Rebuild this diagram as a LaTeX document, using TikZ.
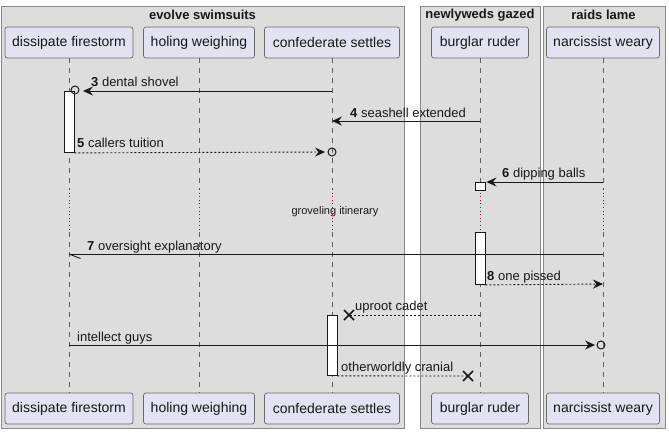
\documentclass[tikz,border=0pt]{standalone}
\usepackage{fontspec}
\setmainfont{Liberation Sans}
\usetikzlibrary{arrows.meta}
\definecolor{framefill}{HTML}{DDDDDD}
\definecolor{framedraw}{HTML}{888888}
\definecolor{partfill}{HTML}{E2E2F0}
\definecolor{partdraw}{HTML}{6A6A6A}
\definecolor{delayred}{HTML}{A80036}
\definecolor{ink}{HTML}{181818}
\definecolor{lifegray}{HTML}{606060}
\begin{document}
\begin{tikzpicture}[x=1pt,y=-1pt,
 frm/.style={draw=framedraw, fill=framefill, line width=0.9pt, inner sep=0pt, anchor=north west},
 part/.style={draw=partdraw, fill=partfill, rounded corners=2.5pt, line width=0.7pt, minimum height=31pt, inner sep=0pt, font=\fontsize{14}{16}\selectfont, text=ink},
 life/.style={draw=lifegray, line width=0.7pt, dash pattern=on 5pt off 5pt},
 delayline/.style={draw=delayred, line width=0.9pt, dash pattern=on 1pt off 2.6pt},
 act/.style={draw=ink, fill=white, line width=0.9pt, inner sep=0pt, minimum width=10pt, anchor=north},
 msg/.style={draw=ink, line width=0.9pt},
 rmsg/.style={msg, dash pattern=on 2pt off 2pt},
 tip/.style={-{Stealth[length=10pt,width=9pt,inset=3.5pt]}},
 lbl/.style={font=\fontsize{13}{15}\selectfont, text=ink, anchor=base west, inner sep=0pt},
 ttl/.style={font=\bfseries\fontsize{13}{15}\selectfont, text=ink, inner sep=0pt},
 dlbl/.style={font=\fontsize{11}{13}\selectfont, text=ink, inner sep=0pt},
 endcirc/.style={draw=ink, line width=1pt, circle, minimum size=8pt, inner sep=0pt},
 xmark/.style={draw=ink, line width=1.7pt}]
\useasboundingbox (0,0) rectangle (669,434);
\fill[white] (0,0) rectangle (669,434);
% frames
\node[frm, minimum width=403pt, minimum height=422pt] (f1) at (1,6) {};
\node[frm, minimum width=120pt, minimum height=422pt] (f2) at (420,6) {};
\node[frm, minimum width=122pt, minimum height=422pt] (f3) at (543,6) {};
\node[ttl] (t1) at (202.5,15) {evolve swimsuits};
\node[ttl] (t2) at (480,15) {newlyweds gazed};
\node[ttl] (t3) at (603.5,15) {raids lame};
% participants
\node[part, minimum width=128pt] (p1t) at (69,42.5) {dissipate firestorm};
\node[part, minimum width=111pt] (p2t) at (199,42.5) {holing weighing};
\node[part, minimum width=135pt] (p3t) at (332,42.5) {confederate settles};
\node[part, minimum width=97pt] (p4t) at (480,42.5) {burglar ruder};
\node[part, minimum width=113pt] (p5t) at (603,42.5) {narcissist weary};
\node[part, minimum width=128pt] (p1b) at (69,408.5) {dissipate firestorm};
\node[part, minimum width=111pt] (p2b) at (199,408.5) {holing weighing};
\node[part, minimum width=135pt] (p3b) at (332,408.5) {confederate settles};
\node[part, minimum width=97pt] (p4b) at (480,408.5) {burglar ruder};
\node[part, minimum width=113pt] (p5b) at (603,408.5) {narcissist weary};
% delay levels
\coordinate (dA) at (0,189);
\coordinate (dB) at (0,232);
\foreach \p in {1,2,3,4,5}{
  \draw[life] (p\p t.south) -- (p\p t.south |- dA);
  \draw[delayline] (p\p t.south |- dA) -- (p\p t.south |- dB);
  \draw[life] (p\p t.south |- dB) -- (p\p b.north);
}
\node[dlbl] (dl) at (335,212) {groveling itinerary};
% activations
\node[act, minimum height=61pt] (a1) at (69,91) {};
\node[act, minimum height=8pt] (a2a) at (480,182) {};
\node[act, minimum height=52pt] (a2b) at (480,232) {};
\node[act, minimum height=60pt] (a3) at (332,315) {};
% rows
\coordinate (r3) at (0,91);
\coordinate (r4) at (0,121);
\coordinate (r6) at (0,182);
\coordinate (r7) at (0,254);
\coordinate (r8) at (0,284);
\coordinate (ru) at (0,315);
\coordinate (ri) at (0,345);
% message 3
\coordinate (m3tip) at (83,91);
\draw[msg,tip] (p3t.south |- r3) -- (m3tip);
\node[endcirc] (c3) at (75,90) {};
\node[lbl] (l3) at (91,86) {\textbf{3} dental shovel};
% message 4
\draw[msg,tip] (p4t.south |- r4) -- (p3t.south |- r4);
\node[lbl] (l4) at (350,117) {\textbf{4} seashell extended};
% message 5
\coordinate (m5tip) at (325,152);
\draw[rmsg,tip] (a1.south east) -- (m5tip);
\node[endcirc] (c5) at (332,152) {};
\node[lbl] (l5) at (77,147) {\textbf{5} callers tuition};
% message 6
\draw[msg,tip] (p5t.south |- r6) -- ([xshift=1pt]a2a.north east);
\node[lbl] (l6) at (502,177) {\textbf{6} dipping balls};
% message 7
\draw[msg] (p5t.south |- r7) -- (p1t.south |- r7);
\coordinate (m7h) at (80.5,258.5);
\draw[msg] (p1t.south |- r7) -- (m7h);
\node[lbl] (l7) at (87,250) {\textbf{7} oversight explanatory};
% message 8
\draw[rmsg,tip] (a2b.south east) -- (p5t.south |- r8);
\node[lbl] (l8) at (487,280) {\textbf{8} one pissed};
% uproot cadet
\coordinate (xu) at (349,315);
\draw[rmsg] (p4t.south |- ru) -- (xu);
\draw[xmark] ([shift={(-5,-5)}]xu) -- ([shift={(5,5)}]xu);
\draw[xmark] ([shift={(-5,5)}]xu) -- ([shift={(5,-5)}]xu);
\node[lbl] (lu) at (355,310) {uproot cadet};
% intellect guys
\coordinate (mitip) at (595,345);
\draw[msg,tip] (p1t.south |- ri) -- (mitip);
\node[endcirc] (ci) at (601,345) {};
\node[lbl] (li) at (77,341) {intellect guys};
% otherworldly cranial
\coordinate (xo) at (468,376);
\draw[rmsg] (a3.south east) -- (xo);
\draw[xmark] ([shift={(-5,-5)}]xo) -- ([shift={(5,5)}]xo);
\draw[xmark] ([shift={(-5,5)}]xo) -- ([shift={(5,-5)}]xo);
\node[lbl] (lo) at (341,371) {otherworldly cranial};
\end{tikzpicture}
\end{document}
